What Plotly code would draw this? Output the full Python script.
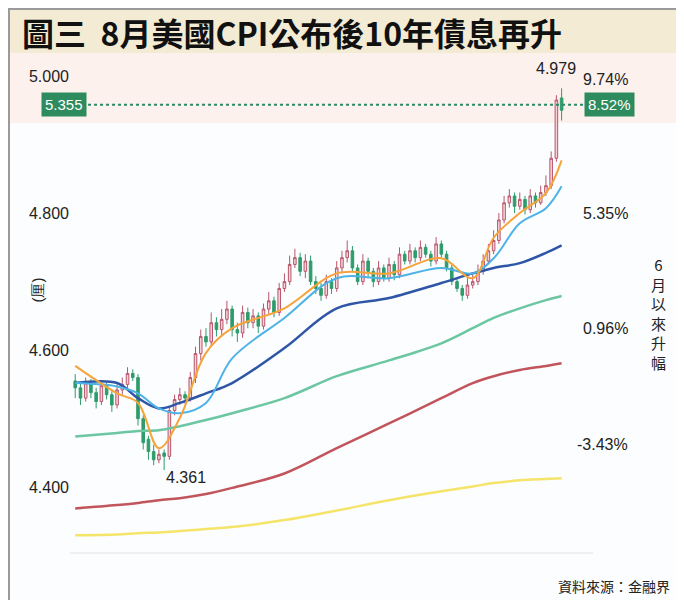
import plotly.graph_objects as go

W, H = 684, 600
L, R, T, B = 62, 99, 55, 55
PW, PH = W - L - R, H - T - B

def px(x):  # pixel x -> paper
    return (x - L) / PW

def py(y):  # pixel y -> paper
    return 1 - (y - T) / PH

idx = list(range(94))
opens = [4.555,4.545,4.530,4.552,4.538,4.525,4.548,4.535,4.520,4.542,
4.550,4.566,4.560,4.500,4.470,4.452,4.440,4.450,4.445,4.512,
4.528,4.535,4.530,4.560,4.595,4.620,4.612,4.640,4.630,4.645,
4.660,4.630,4.625,4.655,4.640,4.650,4.635,4.660,4.672,4.655,
4.690,4.700,4.725,4.735,4.715,4.730,4.700,4.690,4.680,4.700,
4.690,4.720,4.735,4.745,4.720,4.700,4.730,4.715,4.700,4.720,
4.705,4.725,4.710,4.740,4.730,4.745,4.735,4.750,4.740,4.730,
4.755,4.740,4.720,4.700,4.690,4.680,4.695,4.700,4.715,4.730,
4.745,4.760,4.790,4.815,4.825,4.810,4.820,4.805,4.825,4.815,
4.830,4.840,4.880,4.968]
closes = [4.545,4.530,4.552,4.538,4.525,4.548,4.535,4.520,4.542,4.550,
4.566,4.560,4.500,4.465,4.452,4.440,4.448,4.445,4.512,4.528,
4.535,4.530,4.560,4.595,4.620,4.612,4.640,4.630,4.645,4.660,
4.630,4.625,4.655,4.640,4.650,4.635,4.660,4.672,4.655,4.690,
4.700,4.725,4.735,4.715,4.730,4.700,4.690,4.680,4.700,4.690,
4.720,4.735,4.745,4.720,4.700,4.730,4.715,4.700,4.720,4.705,
4.725,4.710,4.740,4.730,4.745,4.735,4.750,4.740,4.730,4.755,
4.740,4.720,4.700,4.690,4.680,4.695,4.700,4.715,4.730,4.745,
4.760,4.790,4.815,4.825,4.810,4.820,4.805,4.825,4.815,4.830,
4.840,4.880,4.965,4.950]
highs = [4.565,4.552,4.560,4.558,4.545,4.555,4.552,4.540,4.550,4.560,
4.575,4.572,4.565,4.505,4.475,4.462,4.455,4.455,4.518,4.535,
4.545,4.540,4.568,4.605,4.630,4.632,4.655,4.648,4.660,4.672,
4.665,4.640,4.665,4.662,4.660,4.655,4.668,4.685,4.678,4.698,
4.712,4.738,4.748,4.742,4.740,4.738,4.708,4.698,4.710,4.705,
4.730,4.745,4.760,4.752,4.725,4.740,4.735,4.720,4.730,4.725,
4.735,4.730,4.750,4.745,4.755,4.750,4.760,4.755,4.745,4.765,
4.760,4.745,4.725,4.705,4.695,4.705,4.710,4.725,4.740,4.755,
4.775,4.800,4.825,4.835,4.830,4.830,4.825,4.835,4.830,4.840,
4.855,4.890,4.972,4.982]
lows = [4.530,4.520,4.525,4.530,4.515,4.520,4.528,4.510,4.515,4.535,
4.545,4.555,4.490,4.455,4.440,4.432,4.435,4.425,4.440,4.505,
4.520,4.522,4.525,4.552,4.585,4.605,4.605,4.620,4.622,4.638,
4.620,4.612,4.618,4.632,4.632,4.625,4.630,4.652,4.648,4.650,
4.685,4.695,4.720,4.708,4.705,4.695,4.682,4.672,4.675,4.682,
4.685,4.712,4.728,4.715,4.695,4.695,4.705,4.692,4.695,4.700,
4.700,4.702,4.705,4.725,4.725,4.728,4.730,4.735,4.722,4.725,
4.735,4.715,4.695,4.685,4.672,4.675,4.690,4.695,4.710,4.725,
4.740,4.755,4.785,4.808,4.800,4.805,4.798,4.800,4.808,4.812,
4.825,4.835,4.875,4.935]

ma_idx = [0, 8, 12, 16, 20, 25, 30, 40, 50, 60, 70, 76, 80, 85, 90, 93]
ma5   = [4.577,4.537,4.523,4.457,4.501,4.596,4.632,4.661,4.712,4.712,4.734,4.705,4.764,4.800,4.829,4.877]
ma10  = [4.552,4.547,4.537,4.515,4.508,4.523,4.588,4.647,4.705,4.705,4.720,4.712,4.734,4.785,4.807,4.839]
ma20  = [4.552,4.552,4.530,4.515,4.523,4.537,4.552,4.603,4.661,4.676,4.698,4.712,4.720,4.727,4.742,4.753]
ma60  = [4.474,4.479,4.482,4.483,4.489,4.498,4.508,4.530,4.562,4.585,4.610,4.632,4.647,4.661,4.673,4.679]
ma120 = [4.369,4.374,4.377,4.381,4.384,4.390,4.399,4.420,4.457,4.493,4.530,4.552,4.562,4.571,4.577,4.581]
ma250 = [4.330,4.331,4.333,4.334,4.336,4.339,4.342,4.352,4.366,4.381,4.394,4.401,4.406,4.410,4.412,4.413]

left_ticks = [5.0, 4.8, 4.6, 4.4]
left_labels = ["5.000", "4.800", "4.600", "4.400"]
right_labels = ["9.74%", "5.35%", "0.96%", "-3.43%"]
right_pos = [4.995, 4.800, 4.632, 4.462]
ref_level = 4.958

fig = go.Figure()
fig.add_trace(go.Candlestick(
    x=idx, open=opens, high=highs, low=lows, close=closes,
    increasing=dict(line=dict(color="#b9566b", width=1), fillcolor="#f6d3d8"),
    decreasing=dict(line=dict(color="#2e9c6b", width=1), fillcolor="#2e9c6b"),
    whiskerwidth=0, showlegend=False, hoverinfo="skip"))

for ys, col, w in [(ma250, "#f5e46a", 2.5), (ma120, "#c2545c", 2.5), (ma60, "#6cc6a2", 2.5),
                   (ma20, "#2f56a6", 2.5), (ma10, "#4db3e6", 2), (ma5, "#f5a43a", 2)]:
    fig.add_trace(go.Scatter(x=ma_idx, y=ys, mode="lines", line=dict(color=col, width=w, shape="spline"),
                             showlegend=False, hoverinfo="skip"))

fig.add_trace(go.Scatter(x=[idx[0] - 1, idx[-1] + 5], y=[ref_level, ref_level], mode="lines",
                         line=dict(color="#2e8b66", width=2, dash="dot"), showlegend=False, hoverinfo="skip"))

shapes = [
    dict(type="rect", xref="paper", yref="paper", x0=px(0), x1=px(W), y0=py(45), y1=py(0),
         fillcolor="#f3ebd3", line_width=0, layer="below"),
    dict(type="rect", xref="paper", yref="paper", x0=px(0), x1=px(W), y0=py(115), y1=py(45),
         fillcolor="#fdf1ee", line_width=0, layer="below"),
    dict(type="line", xref="paper", yref="paper", x0=0, x1=1, y0=0, y1=0, line=dict(color="#e3e3e3", width=1)),
    dict(type="rect", xref="paper", yref="paper", x0=px(1), x1=px(W - 1), y0=py(H - 1), y1=py(1),
         line=dict(color="#9a9a9a", width=2), fillcolor="rgba(0,0,0,0)"),
]

def pa(x, y, text, **kw):
    d = dict(x=px(x), y=py(y), xref="paper", yref="paper", text=text, showarrow=False,
             yanchor="middle")
    d.update(kw)
    return d

ann = [
    pa(12, 24, "<b>圖三  8月美國CPI公布後10年債息再升</b>", xanchor="left",
       font=dict(size=32, color="#111", family="Noto Sans CJK TC")),
    dict(x=px(33), xref="paper", y=ref_level, yref="y", yanchor="middle", text="5.355", showarrow=False,
         bgcolor="#2e8b5e", font=dict(size=15, color="white"), borderpad=3),
    dict(x=px(627), xref="paper", y=ref_level, yref="y", yanchor="middle", text="8.52%", showarrow=False,
         bgcolor="#2e8b5e", font=dict(size=15, color="white"), borderpad=3),
    pa(18, 282, "(厘)", textangle=-90, font=dict(size=15, color="#222")),
    pa(660, 305, "6<br>月<br>以<br>來<br>升<br>幅", font=dict(size=15, color="#222", family="Noto Sans CJK TC")),
    pa(664, 578, "資料來源：金融界", xanchor="right", font=dict(size=14, color="#222", family="Noto Sans CJK TC")),
    dict(x=92, xref="x", y=4.995, yref="y", text="4.979", showarrow=False, yanchor="bottom",
         font=dict(size=16, color="#222")),
    dict(x=17, xref="x", y=4.43, yref="y", text="4.361", showarrow=False, yanchor="top", xanchor="left",
         font=dict(size=16, color="#222")),
]
for t, v in zip(right_labels, right_pos):
    ann.append(dict(x=px(622), xref="paper", y=v, yref="y", text=t, showarrow=False,
                    font=dict(size=16, color="#222"), yanchor="middle"))

fig.update_layout(
    width=W, height=H, margin=dict(l=L, r=R, t=T, b=B),
    paper_bgcolor="#fbfdfe", plot_bgcolor="rgba(0,0,0,0)",
    font=dict(family="Liberation Sans, Arial", size=16, color="#222"),
    shapes=shapes, annotations=ann,
    xaxis=dict(range=[-1, 99], showgrid=False, zeroline=False, showticklabels=False,
               rangeslider=dict(visible=False)),
    yaxis=dict(range=[4.304, 5.019], tickvals=left_ticks, ticktext=left_labels, showgrid=False,
               zeroline=False, ticks="", tickfont=dict(size=16)),
)
fig.write_html("out.html")
